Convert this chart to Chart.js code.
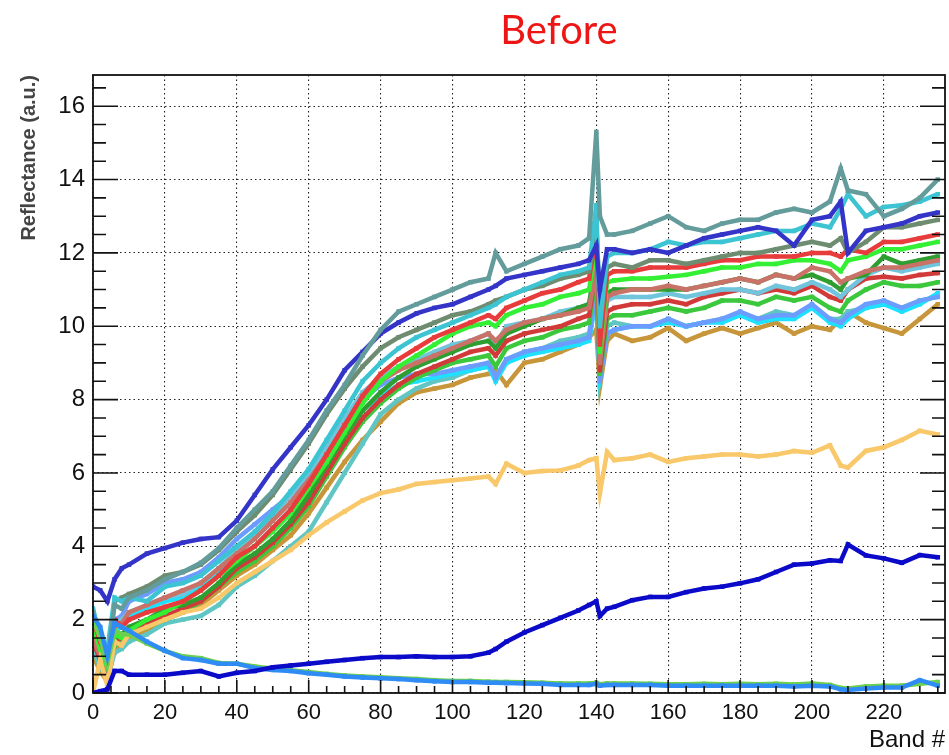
<!DOCTYPE html>
<html>
<head>
<meta charset="utf-8">
<script src="https://cdn.jsdelivr.net/npm/chart.js@4.4.1/dist/chart.umd.min.js"></script>
<style>
  html, body { margin: 0; padding: 0; background: #fff; }
  #wrap { width: 949px; height: 755px; position: relative; }
</style>
</head>
<body>
<div id="wrap"><canvas id="c"></canvas></div>
<script>
// ---------- DATA ----------
const chartTitle = "Before";
const xAxisTitle = "Band #";
const yAxisTitle = "Reflectance (a.u.)";
const xTicks = [0, 20, 40, 60, 80, 100, 120, 140, 160, 180, 200, 220];
const yTicks = [0, 2, 4, 6, 8, 10, 12, 14, 16];

const bands = [0,2,4,6,8, 10,15,20,25,30,35, 40,45,50,55,60,65,70,75, 80,85,90,95,100,105,110, 112, 115,120,125,130,135, 138,140,141,143, 145,150,155,160,165,170,175,180,185,190,195,200,205, 208, 210,215,220,225,230,235];

const darkBlueLow = [0.0,0.05,0.1,0.6,0.6, 0.5,0.5,0.5,0.55,0.6,0.45, 0.55,0.6,0.7,0.75,0.8,0.85,0.9,0.95, 0.98,0.98,1.0,0.98,0.98,1.0,1.1, 1.2, 1.4,1.65,1.85,2.05,2.25, 2.4,2.5,2.1,2.3, 2.35,2.53,2.62,2.62,2.75,2.85,2.9,2.99,3.1,3.3,3.5,3.53,3.62, 3.6, 4.05,3.75,3.67,3.55,3.76,3.7];
const lightBlueLow = [2.1,1.8,1.0,1.9,1.8, 1.7,1.4,1.15,0.95,0.9,0.8, 0.8,0.68,0.63,0.6,0.54,0.5,0.45,0.42, 0.4,0.38,0.35,0.32,0.3,0.3,0.28, 0.28, 0.27,0.26,0.25,0.22,0.22, 0.22,0.25,0.2,0.22, 0.22,0.22,0.22,0.2,0.2,0.2,0.2,0.2,0.2,0.2,0.18,0.2,0.18, 0.1, 0.08,0.12,0.15,0.15,0.35,0.2];
const greenLow = [2.0,1.5,0.8,1.7,1.6, 1.6,1.35,1.15,1.0,0.95,0.82, 0.8,0.72,0.66,0.62,0.57,0.52,0.48,0.45, 0.43,0.4,0.38,0.35,0.33,0.33,0.31, 0.3, 0.3,0.29,0.28,0.26,0.26, 0.26,0.28,0.24,0.26, 0.26,0.26,0.25,0.24,0.24,0.25,0.24,0.25,0.24,0.25,0.23,0.26,0.22, 0.14, 0.12,0.18,0.2,0.2,0.25,0.3];
const yellowOrange = [0.0,0.9,0.2,1.4,1.3, 1.6,1.8,2.0,2.2,2.3,2.6, 3.0,3.3,3.6,3.9,4.3,4.65,4.95,5.25, 5.45,5.55,5.7,5.75,5.8,5.85,5.9, 5.7, 6.25,6.0,6.05,6.07,6.2, 6.35,6.4,5.45,6.57, 6.35,6.4,6.5,6.3,6.4,6.45,6.5,6.5,6.45,6.5,6.6,6.55,6.75, 6.2, 6.15,6.6,6.7,6.9,7.15,7.05];
const cadetGray = [2.2,1.5,0.8,2.4,2.3, 2.6,2.8,3.1,3.3,3.55,3.95, 4.5,5.0,5.5,6.2,6.9,7.7,8.4,9.2, 9.9,10.4,10.6,10.8,11.0,11.2,11.3, 12.0, 11.5,11.7,11.9,12.1,12.2, 12.4,15.3,13.0,12.5, 12.5,12.6,12.8,13.0,12.7,12.6,12.8,12.9,12.9,13.1,13.2,13.1,13.4, 14.3, 13.7,13.6,13.0,13.2,13.5,14.0];
const blueMid = [2.9,2.8,2.5,3.1,3.4, 3.5,3.8,3.95,4.1,4.2,4.25, 4.7,5.4,6.1,6.7,7.3,8.0,8.8,9.3, 9.8,10.1,10.35,10.5,10.6,10.8,11.0, 11.1, 11.3,11.4,11.5,11.6,11.7, 11.8,12.2,11.0,12.1, 12.1,12.0,12.1,12.0,12.2,12.4,12.5,12.6,12.7,12.6,12.2,12.9,13.0, 13.4, 12.0,12.6,12.7,12.8,13.0,13.1];
const cyanA = [2.3,1.5,1.2,2.6,2.5, 2.6,2.5,2.9,3.0,3.2,3.6, 4.0,4.4,4.9,5.5,6.1,6.9,7.7,8.5, 9.0,9.4,9.7,9.9,10.1,10.3,10.5, 10.6, 10.8,11.0,11.2,11.4,11.5, 11.6,13.3,10.0,11.9, 12.0,12.0,12.1,12.3,12.2,12.3,12.3,12.4,12.5,12.6,12.6,12.8,12.7, 13.2, 13.6,13.0,13.25,13.3,13.4,13.6];
const grayGreen = [2.2,1.6,1.0,2.5,2.6, 2.7,2.9,3.2,3.3,3.5,3.9, 4.4,4.85,5.4,6.1,6.8,7.6,8.3,8.9, 9.4,9.7,9.9,10.1,10.3,10.4,10.6, 10.7, 10.8,11.0,11.1,11.3,11.4, 11.5,12.8,10.5,11.6, 11.7,11.6,11.8,11.8,11.7,11.8,11.9,12.0,12.0,12.1,12.2,12.3,12.2, 12.4, 12.0,12.3,12.7,12.7,12.8,12.9];
const salmon = [1.5,1.0,0.6,1.8,1.9, 2.2,2.4,2.6,2.8,3.0,3.4, 3.8,4.2,4.7,5.2,5.8,6.5,7.3,8.0, 8.5,8.8,9.0,9.2,9.4,9.6,9.8, 9.6, 9.9,10.1,10.2,10.3,10.4, 10.5,11.5,9.0,10.8, 10.9,11.0,11.0,11.1,11.0,11.1,11.2,11.3,11.2,11.4,11.3,11.6,11.5, 11.2, 11.3,11.5,11.6,11.6,11.7,11.8];
const redA = [2.0,1.4,0.9,2.0,1.8, 2.0,2.2,2.35,2.5,2.8,3.2, 3.7,4.0,4.5,5.0,5.7,6.5,7.3,8.1, 8.7,9.1,9.4,9.7,9.9,10.1,10.3, 10.2, 10.5,10.7,10.9,11.0,11.2, 11.3,12.5,9.5,11.4, 11.5,11.5,11.6,11.6,11.6,11.7,11.8,11.8,11.9,11.9,11.9,12.0,12.0, 11.9, 12.1,12.0,12.3,12.3,12.4,12.5];
const brightGreen = [1.8,1.2,0.7,1.6,1.5, 1.7,2.0,2.2,2.5,2.8,3.2, 3.6,4.0,4.4,4.9,5.6,6.3,7.1,7.9, 8.5,8.9,9.2,9.5,9.8,10.0,10.1, 10.0, 10.3,10.5,10.6,10.8,10.9, 11.0,12.2,9.3,11.2, 11.25,11.3,11.3,11.35,11.4,11.5,11.6,11.6,11.7,11.7,11.8,11.8,11.7, 11.5, 11.8,11.9,12.1,12.1,12.2,12.3];
const darkGreen = [1.6,1.1,0.5,1.5,1.6, 1.8,2.0,2.3,2.4,2.6,3.0, 3.5,3.8,4.2,4.7,5.4,6.2,7.0,7.7, 8.2,8.6,8.9,9.1,9.3,9.5,9.6, 9.4, 9.8,10.0,10.2,10.3,10.5, 10.6,11.8,9.0,10.9, 11.0,11.0,11.0,11.0,11.0,11.1,11.2,11.3,11.2,11.4,11.3,11.4,11.2, 11.0, 11.3,11.4,11.9,11.7,11.8,11.9];
const lightCyan = [2.0,1.3,0.8,1.9,2.0, 2.2,2.4,2.6,2.7,3.0,3.4, 3.9,4.3,4.8,5.4,6.0,6.7,7.5,8.2, 8.6,8.9,9.1,9.3,9.5,9.6,9.8, 9.5, 10.0,10.1,10.2,10.4,10.5, 10.6,11.9,9.2,10.7, 10.8,10.8,10.8,10.9,10.8,10.9,11.0,11.0,10.9,11.1,11.0,11.2,11.0, 10.8, 11.0,11.4,11.6,11.5,11.6,11.7];
const redB = [1.4,0.9,0.5,1.4,1.5, 1.7,1.9,2.1,2.3,2.5,2.9, 3.4,3.7,4.1,4.6,5.2,6.0,6.8,7.5, 8.0,8.4,8.7,8.9,9.1,9.3,9.4, 9.2, 9.6,9.8,9.9,10.0,10.2, 10.3,11.6,8.8,10.4, 10.5,10.6,10.6,10.7,10.6,10.8,10.9,11.0,10.9,11.0,10.9,11.1,10.8, 10.7, 11.0,11.3,11.35,11.3,11.4,11.45];
const greenB = [1.7,1.0,0.6,1.3,1.4, 1.6,1.8,2.0,2.2,2.5,2.9, 3.3,3.6,4.0,4.5,5.1,5.9,6.7,7.4, 7.9,8.3,8.6,8.8,9.0,9.1,9.2, 8.9, 9.4,9.6,9.7,9.9,10.0, 10.1,11.4,8.7,10.2, 10.3,10.3,10.4,10.5,10.4,10.5,10.7,10.7,10.6,10.8,10.7,10.8,10.5, 10.4, 10.7,11.0,11.2,11.1,11.1,11.2];
const lightBlue = [2.0,1.2,0.9,2.0,2.1, 2.5,2.7,3.0,3.1,3.3,3.7, 4.2,4.6,5.0,5.4,5.9,6.6,7.4,8.0, 8.4,8.6,8.7,8.7,8.8,8.9,9.0, 8.6, 9.1,9.3,9.4,9.5,9.6, 9.7,11.0,8.5,9.8, 9.9,10.0,10.0,10.2,10.0,10.1,10.2,10.4,10.2,10.3,10.3,10.6,10.2, 10.1, 10.3,10.6,10.7,10.5,10.7,10.8];
const cyanB = [1.9,1.1,0.7,1.7,1.8, 2.1,2.3,2.5,2.6,2.9,3.3, 3.7,4.0,4.5,5.0,5.6,6.3,7.1,7.7, 8.1,8.4,8.5,8.6,8.7,8.8,8.9, 8.5, 9.0,9.2,9.3,9.4,9.5, 9.6,10.8,8.6,9.8, 9.9,10.0,10.0,10.1,10.0,10.1,10.1,10.3,10.1,10.2,10.2,10.5,10.1, 10.0, 10.2,10.5,10.6,10.4,10.6,10.9];
const tealLight = [1.2,0.7,0.4,1.1,1.2, 1.4,1.6,1.9,2.0,2.1,2.4, 2.9,3.2,3.6,4.0,4.4,5.2,6.0,6.8, 7.6,8.0,8.3,8.5,8.6,8.8,8.9, 8.6, 9.1,9.3,9.4,9.6,9.7, 9.8,11.0,8.6,10.0, 10.1,10.0,10.0,10.2,10.0,10.1,10.2,10.3,10.2,10.4,10.3,10.5,10.2, 10.2, 10.4,10.5,10.6,10.5,10.7,10.8];
const orangeBrown = [1.0,0.6,0.3,1.2,1.3, 1.5,1.7,2.0,2.2,2.4,2.8, 3.2,3.5,3.9,4.3,4.9,5.6,6.3,6.9, 7.4,7.9,8.2,8.3,8.4,8.6,8.7, 8.8, 8.4,9.0,9.1,9.3,9.5, 9.7,9.9,8.35,9.6, 9.8,9.6,9.7,9.95,9.6,9.8,9.95,9.8,9.95,10.1,9.8,10.0,9.9, 10.2, 10.4,10.1,9.95,9.8,10.2,10.6];

// series order: first = drawn on top
const seriesDefs = [
  { name: "s18", values: darkBlueLow,  color: "#0a0ac8" },
  { name: "s17", values: lightBlueLow, color: "#2f8cf5" },
  { name: "s16", values: greenLow,     color: "#6cd04c" },
  { name: "s15", values: yellowOrange, color: "#f8c86a" },
  { name: "s1",  values: cadetGray,    color: "#649c9c" },
  { name: "s2",  values: blueMid,      color: "#3434c8" },
  { name: "s3",  values: cyanA,        color: "#3cc4d2" },
  { name: "s4",  values: grayGreen,    color: "#6e8c70" },
  { name: "s6",  values: redA,         color: "#e83c3c" },
  { name: "s7",  values: brightGreen,  color: "#34f034" },
  { name: "s5",  values: salmon,       color: "#c87268" },
  { name: "s8",  values: darkGreen,    color: "#2e9e30" },
  { name: "s9",  values: lightCyan,    color: "#70c4dc" },
  { name: "s10", values: redB,         color: "#d23a3a" },
  { name: "s11", values: greenB,       color: "#3cc83c" },
  { name: "s12", values: lightBlue,    color: "#6c9cff" },
  { name: "s13", values: cyanB,        color: "#1ee0ff" },
  { name: "s14", values: tealLight,    color: "#60c6c4" },
  { name: "s19", values: orangeBrown,  color: "#c8963a" }
];

// ---------- CHART ----------
const PLOT = { left: 93, right: 946, top: 75, bottom: 693 };
const W = 949, H = 755;
const PAD_LEFT = 10, PAD_BOTTOM = 0;
const tickFont = "'Liberation Sans', Arial, sans-serif";

const datasets = seriesDefs.map(s => ({
  label: s.name,
  data: bands.map((b, i) => ({ x: b, y: s.values[i] })),
  borderColor: s.color,
  backgroundColor: s.color,
  borderWidth: 4.5,
  borderJoinStyle: 'miter',
  pointStyle: 'rect',
  pointRadius: 3.2,
  pointBorderWidth: 0,
  tension: 0,
  fill: false
}));

const rootFrame = {
  id: 'rootFrame',
  afterDatasetsDraw(chart) {
    const { ctx, chartArea: a, scales: { x, y } } = chart;
    ctx.save();
    ctx.strokeStyle = '#111';
    ctx.lineWidth = 1.8;
    ctx.strokeRect(a.left, a.top, a.right - a.left, a.bottom - a.top);
    ctx.lineWidth = 1.6;
    ctx.beginPath();
    for (let v = 0; v <= 237; v += 5) {
      const px = x.getPixelForValue(v);
      const len = (v % 20 === 0) ? 13 : 7;
      ctx.moveTo(px, a.bottom); ctx.lineTo(px, a.bottom - len);
    }
    for (let v = 0; v <= 16.8; v += 0.5) {
      const py = y.getPixelForValue(v);
      const len = (Math.abs(v % 2) < 1e-9) ? 25 : 13;
      ctx.moveTo(a.left, py); ctx.lineTo(a.left + len, py);
      ctx.moveTo(a.right, py); ctx.lineTo(a.right - len, py);
    }
    ctx.stroke();
    ctx.restore();
  },
  afterDraw(chart) {
    const { ctx } = chart;
    ctx.save();
    ctx.fillStyle = '#ee1515';
    ctx.font = "40px Lato, 'Open Sans', sans-serif";
    ctx.textAlign = 'center';
    ctx.textBaseline = 'alphabetic';
    ctx.fillText(chartTitle, 559, 44);
    ctx.restore();
  }
};

new Chart(document.getElementById('c'), {
  type: 'line',
  data: { datasets },
  plugins: [rootFrame],
  options: {
    responsive: true,
    maintainAspectRatio: false,
    animation: false,
    layout: { padding: { left: PAD_LEFT, right: W - PLOT.right, top: PLOT.top, bottom: PAD_BOTTOM } },
    plugins: { legend: { display: false }, title: { display: false }, tooltip: { enabled: false } },
    scales: {
      x: {
        type: 'linear', min: 0, max: 237,
        afterBuildTicks: s => { s.ticks = xTicks.map(v => ({ value: v })); },
        afterFit: s => { s.height = H - PLOT.bottom - PAD_BOTTOM; },
        ticks: { font: { family: tickFont, size: 22 }, color: '#111', padding: 7, maxRotation: 0, autoSkip: false },
        grid: { color: '#222', lineWidth: 1.1, drawTicks: false },
        border: { display: false, dash: [1.5, 3] },
        title: { display: true, text: xAxisTitle, align: 'end', color: '#111',
                 font: { family: tickFont, size: 24 }, padding: { top: 0, bottom: 0 } }
      },
      y: {
        type: 'linear', min: 0, max: 16.85,
        afterBuildTicks: s => { s.ticks = yTicks.map(v => ({ value: v })); },
        afterFit: s => { s.width = PLOT.left - PAD_LEFT; },
        ticks: { font: { family: tickFont, size: 24 }, color: '#111', padding: 8 },
        grid: { color: '#222', lineWidth: 1.1, drawTicks: false },
        border: { display: false, dash: [1.5, 3] },
        title: { display: true, text: yAxisTitle, align: 'end', color: '#444',
                 font: { family: tickFont, size: 20, weight: 'bold' }, padding: { top: 7, bottom: 0 } }
      }
    }
  }
});
</script>
</body>
</html>
